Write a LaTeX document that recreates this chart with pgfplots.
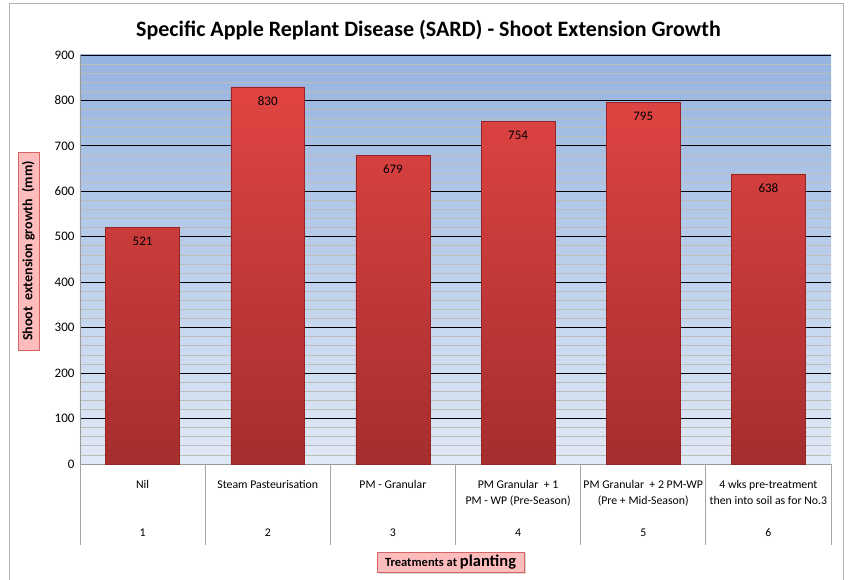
\documentclass[border=0pt]{standalone}
\usepackage{fontspec}
\setmainfont{Carlito}
\usepackage{pgfplots}
\pgfplotsset{compat=1.18}
\usetikzlibrary{shadows}
\definecolor{bgTop}{RGB}{150,180,224}
\definecolor{bgBot}{RGB}{224,233,246}
\definecolor{barTop}{RGB}{224,68,66}
\definecolor{barBot}{RGB}{165,46,46}
\definecolor{barEdge}{RGB}{150,36,36}
\definecolor{gridMinor}{RGB}{188,188,184}
\definecolor{boxFill}{RGB}{255,188,188}
\definecolor{boxEdge}{RGB}{215,100,100}
\newcommand{\cat}[3]{\begin{tabular}{@{}c@{}}#1\\#2\\[16pt]#3\end{tabular}}
\begin{document}
\begin{tikzpicture}
\path[use as bounding box] (0pt,0pt) rectangle (849pt,580pt);
\draw[gray!60, line width=1pt] (9pt,0pt) -- (9pt,576pt) -- (843pt,576pt) -- (843pt,0pt);
\begin{axis}[
  at={(80pt,116pt)}, anchor=south west,
  scale only axis, width=751pt, height=409pt,
  xmin=0.5, xmax=6.5, ymin=0, ymax=900,
  ybar, bar width=0.59,
  axis x line*=bottom, axis y line*=left,
  axis line style={gray!80, line width=0.8pt},
  axis background/.style={top color=bgTop, bottom color=bgBot},
  ytick={0,100,...,900},
  minor y tick num=4,
  ymajorgrids, yminorgrids,
  major grid style={black, line width=0.8pt},
  minor grid style={gridMinor, line width=0.8pt},
  major tick length=0pt, minor tick length=0pt,
  yticklabel style={font=\fontsize{13}{15}\selectfont, /pgf/number format/assume math mode=true, xshift=-2pt},
  xtick={1,...,6},
  xticklabels={
    \cat{Nil}{}{1},
    \cat{Steam Pasteurisation}{}{2},
    \cat{PM - Granular}{}{3},
    \cat{PM Granular\ \ + 1}{PM - WP (Pre-Season)}{4},
    \cat{PM Granular\ \ + 2 PM-WP}{(Pre + Mid-Season)}{5},
    \cat{4 wks pre-treatment}{then into soil as for No.3}{6}},
  xticklabel style={anchor=north, yshift=-10pt, font=\fontsize{11.8}{16}\selectfont, align=center},
  extra x ticks={0.5,1.5,2.5,3.5,4.5,5.5,6.5},
  extra x tick labels={},
  extra x tick style={major tick length=81pt, tick align=outside, tick style={gray!70, line width=0.8pt}},
  title={Specific Apple Replant Disease (SARD) - Shoot Extension Growth},
  title style={at={(axis description cs:0.464,1.047)}, anchor=center, font=\bfseries\fontsize{22}{26}\selectfont},
  ylabel={\bfseries Shoot\ \ extension growth\ \ (mm)},
  ylabel style={at={(axis description cs:-0.0686,0.521)}, anchor=center, rotate=0,
    draw=boxEdge, fill=boxFill, font=\fontsize{14}{16}\selectfont, inner xsep=9pt, inner ysep=4pt,
    drop shadow={shadow xshift=1.5pt, shadow yshift=-1.5pt, opacity=0.3}},
  xlabel={\bfseries\fontsize{12.5}{14}\selectfont Treatments at \fontsize{16.5}{18}\selectfont planting},
  xlabel style={at={(axis description cs:0.4934,-0.2396)}, anchor=center,
    draw=boxEdge, fill=boxFill, inner xsep=8pt, inner ysep=3pt,
    drop shadow={shadow xshift=1.5pt, shadow yshift=-1.5pt, opacity=0.3}},
  nodes near coords={\pgfmathprintnumber[assume math mode=true]{\pgfplotspointmeta}},
  every node near coord/.append style={anchor=north, yshift=-6pt, font=\fontsize{13}{15}\selectfont, text=black},
  clip=false,
]
\addplot[draw=barEdge, line width=0.6pt, top color=barTop, bottom color=barBot]
  coordinates {(1,521) (2,830) (3,679) (4,754) (5,795) (6,638)};
\end{axis}
\end{tikzpicture}
\end{document}
